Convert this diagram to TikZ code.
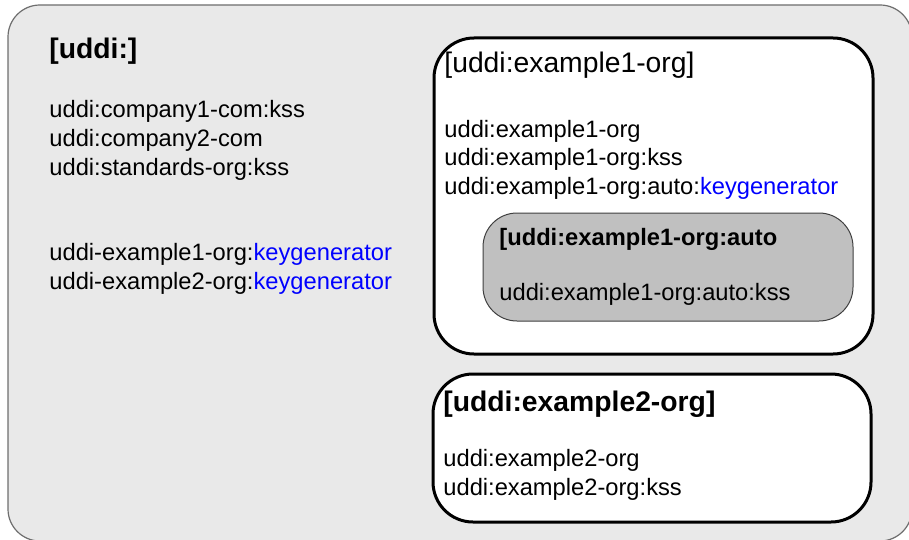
\documentclass[tikz,border=0pt]{standalone}
\usepackage{xcolor}
\usepackage{fontspec}
\setmainfont{Liberation Sans}
\usepackage{tikz}
\usetikzlibrary{positioning,fit,calc}
\definecolor{outergray}{RGB}{233,233,233}
\definecolor{edgegray}{RGB}{110,110,110}
\definecolor{autogray}{RGB}{192,192,192}
\definecolor{keyblue}{RGB}{0,0,255}
\newcommand{\keygen}{\textcolor{keyblue}{keygenerator}}

\begin{document}
\begin{tikzpicture}[
    x=0.5pt, y=-0.5pt,
    outerbox/.style={draw=edgegray, line width=0.6pt, fill=outergray, rounded corners=16pt, inner sep=0pt},
    orgbox/.style={draw=black, line width=1.5pt, fill=white, rounded corners=20pt, inner sep=0pt},
    autobox/.style={draw=black!75, line width=0.5pt, fill=autogray, rounded corners=17pt, inner sep=0pt},
    txt/.style={anchor=base west, inner sep=0pt, align=left, font=\fontsize{11.85}{14.25}\selectfont},
    title/.style={txt, font=\fontsize{14.15}{17}\selectfont},
    boldtitle/.style={title, font=\fontsize{14.15}{17}\selectfont\bfseries}
]
    \useasboundingbox (0,0) rectangle (909,540);

    % containers
    \node[outerbox, fit={(8,5) (912,541)}] (root) {};
    \node[orgbox, fit={(434,38) (873,354)}] (org1) {};
    \node[autobox, fit={(483,213) (853,321)}] (auto) {};
    \node[orgbox, fit={(433,374) (871,522)}] (org2) {};

    % root partition (multi-line nodes sit on their last baseline)
    \node[boldtitle] (roottitle) at (49,59) {[uddi:]};
    \node[txt] (rootkeys) at (49,175) {uddi:company1-com:kss\\uddi:company2-com\\uddi:standards-org:kss};
    \node[txt] (rootgens) at (49,289) {uddi-example1-org:\keygen\\uddi-example2-org:\keygen};

    % example1-org partition
    \node[title] (org1title) at (444,73) {[uddi:example1-org]};
    \node[txt] (org1keys) at (444,194) {uddi:example1-org\\uddi:example1-org:kss\\uddi:example1-org:auto:\keygen};
    \node[txt, font=\fontsize{11.85}{14.25}\selectfont\bfseries] (autotitle) at (499,245) {[uddi:example1-org:auto};
    \node[txt] (autokeys) at (499,300) {uddi:example1-org:auto:kss};

    % example2-org partition
    \node[boldtitle] (org2title) at (443,411) {[uddi:example2-org]};
    \node[txt] (org2keys) at (443,495) {uddi:example2-org\\uddi:example2-org:kss};
\end{tikzpicture}
\end{document}
